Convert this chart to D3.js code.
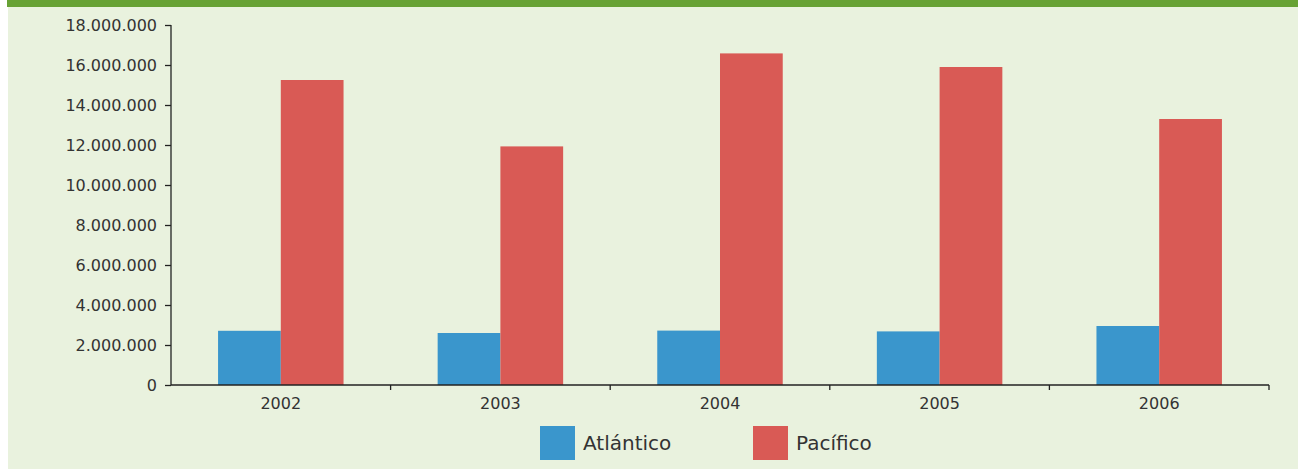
<!DOCTYPE html>
<html><head><meta charset="utf-8">
<script src="https://cdn.jsdelivr.net/npm/d3@7"></script>
<style>
html,body{margin:0;padding:0;background:#fff;}
svg{display:block;}
text{font-family:"DejaVu Sans",sans-serif;fill:#333;}
</style></head>
<body>
<svg id="c" width="1298" height="469"></svg>
<script>
const years = ["2002","2003","2004","2005","2006"];
const seriesNames = ["Atlántico","Pacífico"];
const atlantico = [2710000, 2600000, 2720000, 2680000, 2950000];
const pacifico = [15250000, 11930000, 16580000, 15900000, 13300000];
const yTicks = [0,2000000,4000000,6000000,8000000,10000000,12000000,14000000,16000000,18000000];
const colors = ["#3a96cc","#d95a55"];

const svg = d3.select("#c");
svg.append("rect").attr("x",8).attr("y",0).attr("width",1290).attr("height",469).attr("fill","#e9f2de");
svg.append("rect").attr("x",7).attr("y",0).attr("width",1291).attr("height",7).attr("fill","#67a234");

const pL=171, pR=1269, pT=25, pB=385;
const x = d3.scaleBand().domain(years).range([pL,pR]).paddingInner(0).paddingOuter(0);
const x1 = d3.scaleBand().domain(seriesNames).range([0,x.bandwidth()]).paddingInner(0).paddingOuter(0.75);
const y = d3.scaleLinear().domain([0,18000000]).range([pB,pT]);

const loc = d3.formatLocale({decimal:",",thousands:".",grouping:[3],currency:["",""]});
const fmt = loc.format(",d");

const data = years.map((yr,i)=>({year:yr, values:[atlantico[i],pacifico[i]]}));
const g = svg.append("g");
g.selectAll("g.grp").data(data).join("g").attr("class","grp")
 .attr("transform",d=>`translate(${x(d.year)},0)`)
 .selectAll("rect").data(d=>d.values.map((v,j)=>({name:seriesNames[j],v,j})))
 .join("rect")
 .attr("x",d=>x1(d.name)).attr("width",x1.bandwidth())
 .attr("y",d=>y(d.v)).attr("height",d=>y(0)-y(d.v))
 .attr("fill",d=>colors[d.j]);

// y axis
const ya = svg.append("g").attr("transform",`translate(${pL},0)`)
 .call(d3.axisLeft(y).tickValues(yTicks).tickFormat(fmt).tickSize(6).tickPadding(8));
ya.select(".domain").attr("stroke","#222").attr("stroke-width",1.3).attr("d",`M0,${pT}V${pB}`);
ya.selectAll(".tick line").attr("stroke","#222").attr("stroke-width",1.3);
ya.selectAll("text").attr("font-size",16).attr("fill","#333").style("font-family","'DejaVu Sans',sans-serif");

// x axis
const xa = svg.append("g").attr("transform",`translate(0,${pB})`)
 .call(d3.axisBottom(x).tickSize(0).tickPadding(10));
xa.select(".domain").attr("stroke","#222").attr("stroke-width",1.5).attr("d",`M${pL},0H${pR}`);
xa.selectAll("text").attr("font-size",16).attr("fill","#333").attr("dy","0.9em").style("font-family","'DejaVu Sans',sans-serif");
// boundary ticks
const bounds = years.map(d=>x(d)+x.bandwidth());
svg.append("g").selectAll("line").data(bounds).join("line")
 .attr("x1",d=>d).attr("x2",d=>d).attr("y1",pB).attr("y2",pB+5)
 .attr("stroke","#222").attr("stroke-width",1.3);

// legend
const legX = [540, 753];
const lg = svg.append("g");
seriesNames.forEach((n,i)=>{
  lg.append("rect").attr("x",legX[i]).attr("y",426).attr("width",35).attr("height",34).attr("fill",colors[i]);
  lg.append("text").attr("x",legX[i]+43).attr("y",450).attr("font-size",20).text(n);
});
</script>
</body></html>
